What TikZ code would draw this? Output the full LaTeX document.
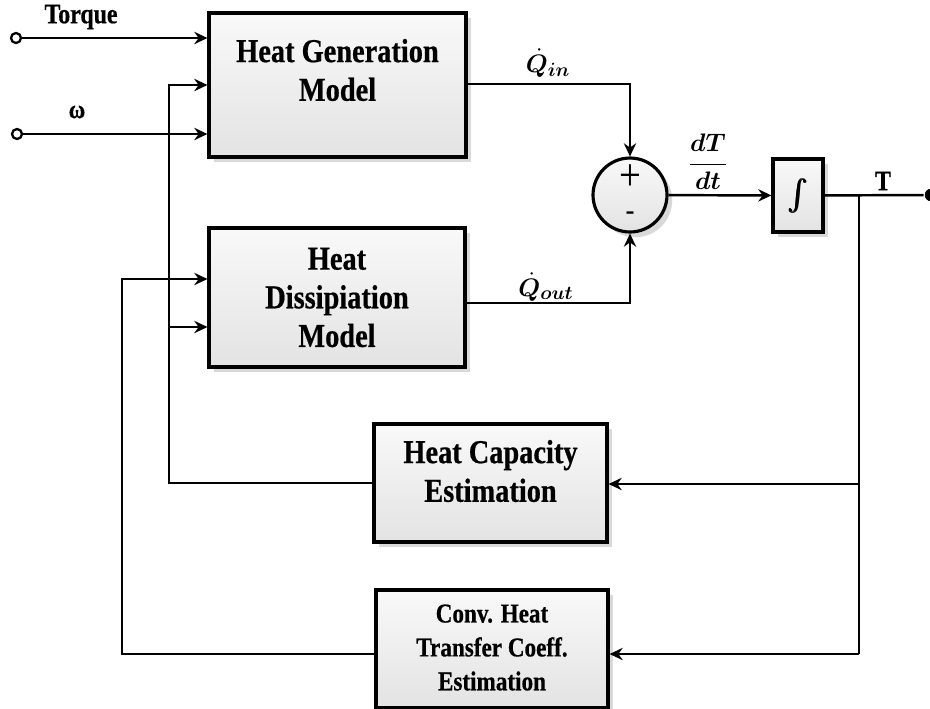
\documentclass[tikz,border=0pt]{standalone}
\usepackage{amsmath,bm}
\usepackage{fontspec}
\setmainfont{Liberation Serif}[FakeStretch=0.85,BoldFeatures={FakeBold=0.6}]
\usetikzlibrary{arrows.meta,shadows}

\begin{document}
\begin{tikzpicture}[x=0.02cm,y=-0.02cm,line width=1.4pt,
  >={Stealth[length=7.5pt,width=7pt,inset=2.5pt]},
  block/.style={draw,line width=1.8pt,top color=gray!5,bottom color=gray!22,
    drop shadow={shadow xshift=3pt,shadow yshift=-3pt,opacity=0.3},inner sep=0pt},
  txt/.style={font=\bfseries\fontsize{19}{22}\selectfont,align=center,inner sep=0pt},
  small/.style={font=\bfseries\fontsize{15.5}{19.3}\selectfont,align=center,inner sep=0pt},
  sign/.style={inner sep=0pt,text height=1.2ex,text depth=0pt},
  port/.style={circle,draw,fill=white,line width=1.3pt,minimum size=0.2cm,inner sep=0pt}]
  \useasboundingbox (0,0) rectangle (930,708);
  \node[block,minimum width=5.14cm,minimum height=2.88cm] (hgm) at (337.5,85) {};
  \node[block,minimum width=5.12cm,minimum height=2.78cm] (hdm) at (337,297.5) {};
  \node[block,minimum width=4.66cm,minimum height=2.36cm] (hce) at (490.5,483) {};
  \node[block,minimum width=4.64cm,minimum height=2.36cm] (chtc) at (492,649) {};
  \node[block,minimum width=1.0cm,minimum height=1.46cm] (intg) at (798,195.5) {\fontsize{18}{20}\selectfont$\bm{\int}$};
  \node[block,circle,minimum size=1.48cm] (sum) at (630,195) {};
  \node[txt] (hgmt) at (337.5,70) {Heat Generation\\Model};
  \node[txt] (hdmt) at (337,297.5) {Heat\\Dissipiation\\Model};
  \node[txt] (hcet) at (490.5,471) {Heat Capacity\\Estimation};
  \node[small] (chtct) at (492,647.5) {Conv. Heat\\Transfer Coeff.\\Estimation};
  \node[sign,font=\fontsize{26}{28}\selectfont] (plus) at (630,186) {+};
  \node[sign,font=\fontsize{18}{20}\selectfont] (minus) at (630,216) {-};
  \node[port] (tq) at (16,38) {};
  \node[port] (om) at (17,134) {};
  \node[circle,fill,minimum size=0.25cm,inner sep=0pt] (out) at (931,195) {};
  \node[font=\bfseries\fontsize{16}{18}\selectfont] (tql) at (81,17) {Torque};
  \node[font=\bfseries\fontsize{15}{18}\selectfont] (oml) at (77,112) {ω};
  \node[font=\bfseries\fontsize{16}{18}\selectfont] (tl) at (883,181) {T};
  \node[font=\fontsize{15}{18}\selectfont] (qin) at (548,63) {$\bm{\dot{Q}_{in}}$};
  \node[font=\fontsize{15}{18}\selectfont] (qout) at (546,287) {$\bm{\dot{Q}_{out}}$};
  \node[font=\fontsize{15}{18}\selectfont] (dtl) at (708,162) {$\bm{\dfrac{dT}{dt}}$};
  \coordinate (a) at (169,85);
  \coordinate (b) at (169,327);
  \coordinate (c) at (122,279);
  \coordinate (q1) at (630,84);
  \coordinate (q2) at (630,303);
  \coordinate (br) at (859,195);
  \coordinate (e) at (859,484);
  \coordinate (d) at (859,654);
  \draw[->] (tq) -- (tq -| hgm.west);
  \draw[->] (om) -- (om -| hgm.west);
  \draw[->] (hce.west) -| (a) -- (a -| hgm.west);
  \draw[->] (b) -- (b -| hdm.west);
  \draw[->] (d -| chtc.west) -| (c) -- (c -| hdm.west);
  \draw[->] (q1 -| hgm.east) -| (sum.north);
  \draw[->] (q2 -| hdm.east) -| (sum.south);
  \draw[->] (sum) -- (intg);
  \draw (intg) -- (out);
  \draw (br) -- (d);
  \draw[->] (e) -- (e -| hce.east);
  \draw[->] (d) -- (d -| chtc.east);
\end{tikzpicture}
\end{document}
